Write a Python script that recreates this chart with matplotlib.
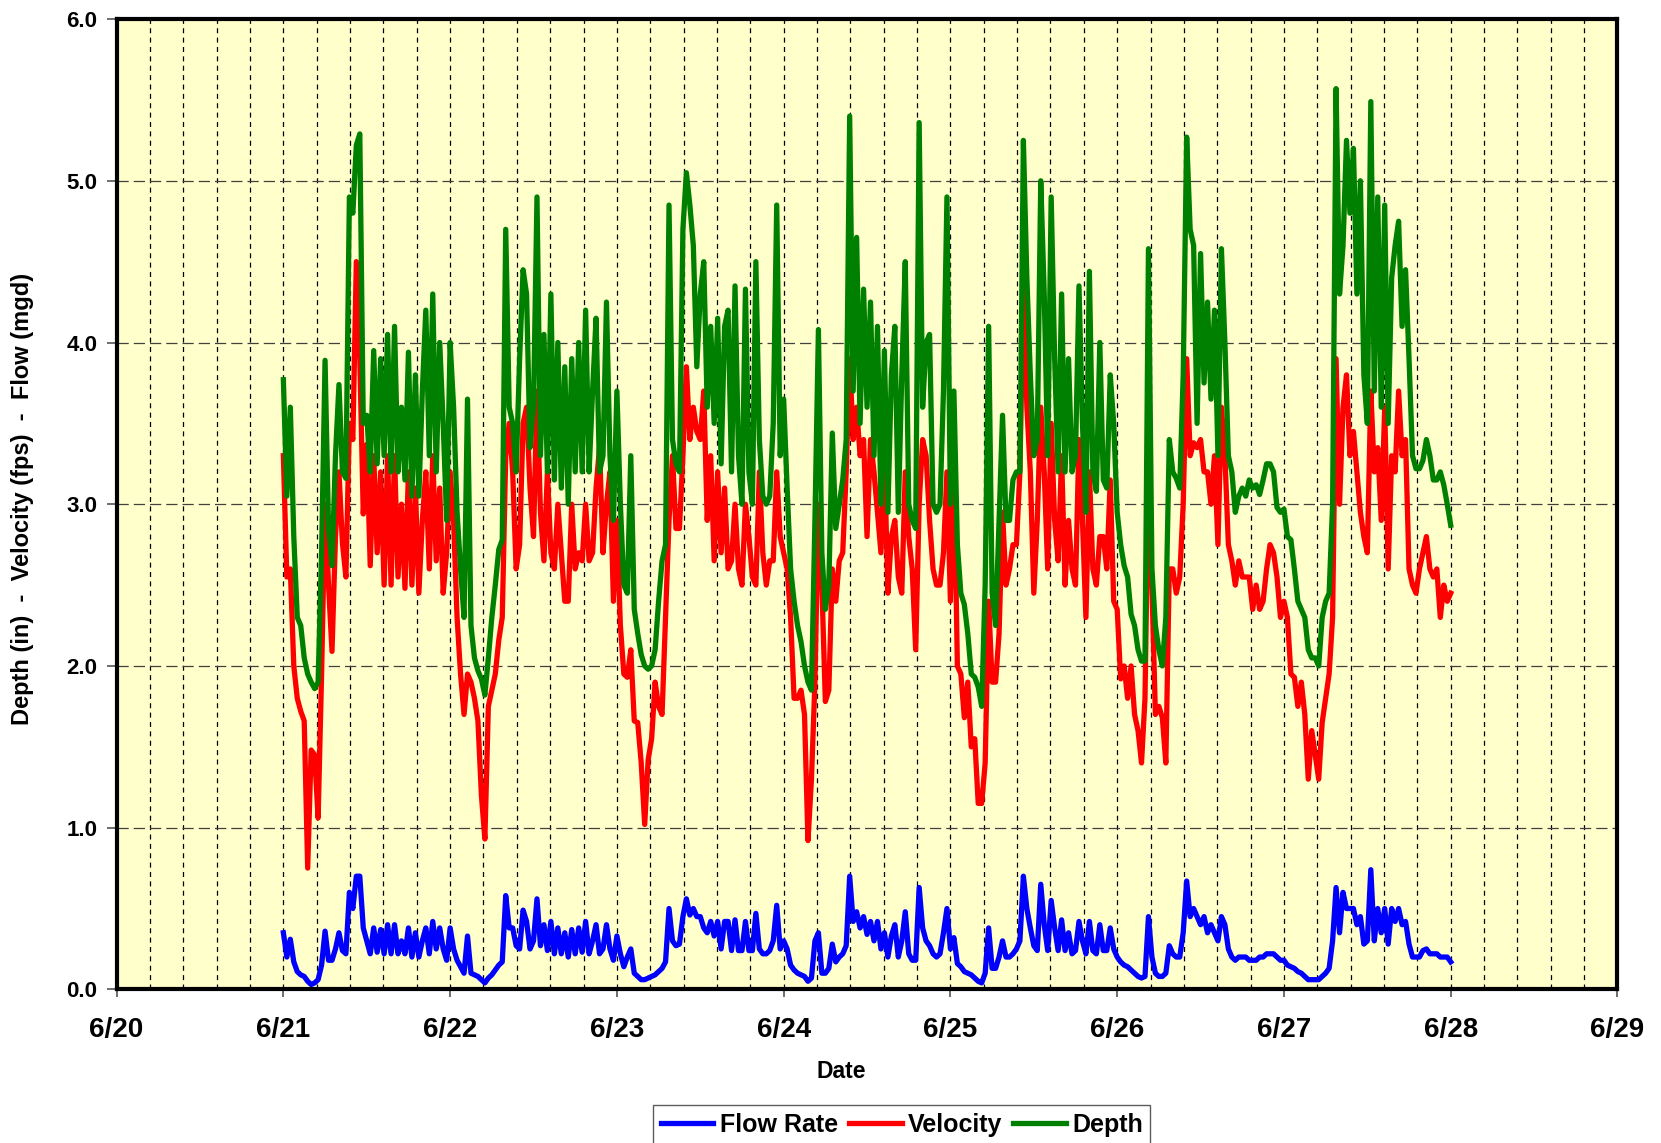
import matplotlib
matplotlib.use('Agg')
import matplotlib.pyplot as plt
import matplotlib.dates as mdates
from matplotlib.ticker import MultipleLocator, FuncFormatter
from datetime import datetime
import pandas as pd

plt.rcParams['font.family'] = ['Liberation Sans', 'DejaVu Sans']
plt.rcParams['font.weight'] = 'bold'

# half-hourly readings, 6/21 00:00 through 6/28 00:00
depth = [
    # 6/21
    3.77, 3.05, 3.6, 2.8, 2.3, 2.25, 2.05, 1.95, 1.9, 1.86, 1.9, 2.7,
    3.89, 2.85, 2.62, 3.3, 3.74, 3.2, 3.16, 4.9, 4.8, 5.22, 5.29, 3.5,
    3.55, 3.2, 3.95, 3.25, 3.9, 3.3, 4.05, 3.2, 4.1, 3.2, 3.6, 3.15,
    3.94, 3.05, 3.8, 3.05, 3.7, 4.2, 3.3, 4.3, 3.2, 4.0, 3.5, 2.9,
    # 6/22
    4.0, 3.6, 2.95, 2.6, 2.3, 3.65, 2.25, 2.05, 1.97, 1.92, 1.82, 2.05,
    2.3, 2.5, 2.72, 2.78, 4.7, 3.6, 3.5, 3.2, 3.9, 4.45, 4.3, 3.35,
    3.6, 4.9, 3.3, 4.05, 3.2, 4.3, 3.15, 4.0, 3.1, 3.85, 3.0, 3.9,
    3.2, 4.0, 3.2, 4.2, 3.2, 3.7, 4.15, 3.2, 3.3, 4.25, 3.3, 2.9,
    # 6/23
    3.7, 3.0, 2.5, 2.45, 3.3, 2.35, 2.2, 2.07, 2.0, 1.98, 2.0, 2.1,
    2.4, 2.65, 2.75, 4.85, 3.4, 3.25, 3.2, 4.7, 5.05, 4.85, 4.6, 3.85,
    4.3, 4.5, 3.6, 4.1, 3.5, 4.15, 3.25, 4.1, 4.2, 3.2, 4.35, 3.3,
    3.0, 4.33, 3.2, 3.0, 4.5, 3.4, 3.05, 3.0, 3.05, 3.5, 4.85, 3.3,
    # 6/24
    3.65, 3.1, 2.6, 2.4, 2.25, 2.15, 2.0, 1.9, 1.85, 2.9, 4.08, 2.7,
    2.35, 2.5, 3.44, 2.85, 3.0, 3.15, 3.4, 5.4, 3.7, 4.65, 3.5, 4.33,
    3.6, 4.25, 3.3, 4.1, 3.0, 3.95, 2.95, 3.8, 4.1, 2.95, 3.8, 4.5,
    3.0, 2.9, 2.85, 5.36, 3.6, 4.0, 4.05, 3.0, 2.95, 3.0, 3.7, 4.9,
    # 6/25
    3.0, 3.7, 2.75, 2.45, 2.38, 2.2, 1.95, 1.93, 1.87, 1.75, 2.5, 4.1,
    2.45, 2.25, 2.9, 3.55, 2.9, 2.9, 3.15, 3.2, 3.2, 5.25, 4.4, 3.8,
    3.3, 3.4, 5.0, 4.3, 3.3, 4.9, 3.9, 3.2, 4.3, 3.2, 3.9, 3.2,
    3.3, 4.35, 3.5, 2.95, 4.44, 3.2, 3.08, 4.0, 3.15, 3.1, 3.8, 3.5,
    # 6/26
    2.95, 2.75, 2.62, 2.55, 2.32, 2.25, 2.1, 2.03, 2.03, 4.58, 2.6, 2.25,
    2.1, 2.0, 2.3, 3.4, 3.2, 3.16, 3.1, 3.8, 5.27, 4.7, 4.6, 3.5,
    4.55, 3.75, 4.25, 3.65, 4.2, 3.3, 4.58, 4.0, 3.3, 3.2, 2.95, 3.05,
    3.1, 3.05, 3.15, 3.1, 3.12, 3.06, 3.15, 3.25, 3.25, 3.2, 2.98, 2.95,
    # 6/27
    2.97, 2.8, 2.78, 2.6, 2.4, 2.35, 2.3, 2.1, 2.05, 2.05, 2.0, 2.3,
    2.4, 2.45, 3.0, 5.57, 4.3, 4.6, 5.25, 4.8, 5.2, 4.3, 5.0, 3.8,
    3.5, 5.49, 3.7, 4.9, 3.6, 4.85, 3.5, 4.4, 4.6, 4.75, 4.1, 4.45,
    3.9, 3.3, 3.22, 3.22, 3.27, 3.4, 3.3, 3.15, 3.15, 3.2, 3.12, 3.0,
    # 6/28
    2.87,
]

velocity = [
    # 6/21
    3.3, 2.55, 2.6, 2.0, 1.8, 1.72, 1.66, 0.75, 1.48, 1.45, 1.06, 1.95,
    3.0, 2.5, 2.09, 2.8, 3.2, 2.76, 2.55, 3.5, 3.4, 4.5, 3.9, 2.94,
    3.37, 2.62, 3.3, 2.7, 3.2, 2.5, 3.3, 2.5, 3.3, 2.55, 3.0, 2.48,
    3.2, 2.5, 3.1, 2.45, 2.9, 3.2, 2.6, 3.3, 2.65, 3.1, 2.45, 2.7,
    # 6/22
    3.2, 2.9, 2.3, 1.95, 1.7, 1.95, 1.9, 1.8, 1.66, 1.2, 0.93, 1.75,
    1.85, 1.95, 2.16, 2.3, 3.3, 3.5, 3.2, 2.6, 2.75, 3.5, 3.6, 3.1,
    2.8, 3.7, 2.95, 2.65, 3.2, 2.7, 2.6, 3.0, 2.7, 2.4, 2.4, 3.0,
    2.6, 2.7, 2.65, 3.0, 2.65, 2.7, 3.1, 3.35, 2.7, 3.0, 3.2, 2.4,
    # 6/23
    2.9, 2.25, 1.95, 1.93, 2.1, 1.66, 1.65, 1.4, 1.02, 1.42, 1.55, 1.9,
    1.75, 1.7, 2.3, 2.9, 3.3, 2.85, 2.85, 3.3, 3.85, 3.4, 3.6, 3.45,
    3.4, 3.7, 2.9, 3.3, 2.65, 3.2, 2.7, 3.1, 2.6, 2.65, 3.0, 2.6,
    2.5, 3.0, 2.8, 2.55, 2.5, 3.2, 2.7, 2.5, 2.65, 2.65, 3.2, 2.8,
    # 6/24
    2.7, 2.6, 2.3, 1.8, 1.8, 1.85, 1.7, 0.92, 1.3, 1.9, 3.0, 2.5,
    1.78, 1.85, 2.6, 2.4, 2.65, 2.7, 3.2, 3.9, 3.4, 3.6, 3.3, 3.4,
    2.8, 3.4, 3.2, 2.95, 2.7, 3.3, 2.45, 2.8, 2.9, 2.55, 2.45, 3.2,
    2.8, 2.6, 2.1, 3.0, 3.4, 3.3, 2.9, 2.6, 2.5, 2.5, 2.7, 3.2,
    # 6/25
    2.4, 3.3, 2.0, 1.95, 1.68, 1.9, 1.5, 1.55, 1.15, 1.15, 1.4, 2.4,
    1.9, 1.9, 2.2, 2.95, 2.5, 2.6, 2.75, 2.75, 3.2, 4.4, 3.6, 3.2,
    2.45, 2.9, 3.6, 3.2, 2.6, 3.5, 2.9, 2.65, 3.3, 2.5, 2.9, 2.6,
    2.5, 3.4, 2.9, 2.3, 3.2, 2.6, 2.5, 2.8, 2.8, 2.6, 3.15, 2.4,
    # 6/26
    2.35, 1.92, 2.0, 1.8, 2.0, 1.7, 1.6, 1.4, 1.8, 3.2, 2.5, 1.7,
    1.75, 1.68, 1.4, 2.6, 2.6, 2.45, 2.55, 3.0, 3.9, 3.3, 3.38, 3.35,
    3.4, 3.2, 3.2, 3.0, 3.3, 2.75, 3.6, 3.3, 2.75, 2.65, 2.5, 2.65,
    2.55, 2.55, 2.55, 2.35, 2.5, 2.35, 2.4, 2.6, 2.75, 2.7, 2.55, 2.3,
    # 6/27
    2.4, 2.3, 1.95, 1.93, 1.75, 1.9, 1.7, 1.3, 1.6, 1.45, 1.3, 1.65,
    1.8, 1.95, 2.3, 3.9, 3.0, 3.6, 3.8, 3.3, 3.45, 3.2, 2.95, 2.8,
    2.7, 3.7, 3.2, 3.35, 2.9, 3.6, 2.6, 3.3, 3.2, 3.7, 3.3, 3.4,
    2.6, 2.5, 2.45, 2.6, 2.7, 2.8, 2.6, 2.55, 2.6, 2.3, 2.5, 2.4,
    # 6/28
    2.45,
]

flow = [
    # 6/21
    0.35, 0.2, 0.31, 0.17, 0.11, 0.09, 0.08, 0.05, 0.03, 0.04, 0.06, 0.15,
    0.36, 0.18, 0.18, 0.25, 0.35, 0.24, 0.22, 0.6, 0.5, 0.7, 0.7, 0.38,
    0.3, 0.22, 0.38, 0.23, 0.37, 0.22, 0.4, 0.22, 0.4, 0.22, 0.3, 0.22,
    0.38, 0.2, 0.35, 0.2, 0.3, 0.38, 0.22, 0.42, 0.25, 0.38, 0.25, 0.18,
    # 6/22
    0.38, 0.25, 0.18, 0.14, 0.1, 0.33, 0.1, 0.09, 0.08, 0.06, 0.04, 0.07,
    0.09, 0.12, 0.15, 0.17, 0.58, 0.38, 0.38, 0.27, 0.25, 0.49, 0.42, 0.25,
    0.3, 0.56, 0.27, 0.4, 0.24, 0.42, 0.22, 0.38, 0.22, 0.35, 0.2, 0.37,
    0.22, 0.38, 0.23, 0.42, 0.22, 0.3, 0.4, 0.22, 0.25, 0.4, 0.25, 0.18,
    # 6/23
    0.33, 0.22, 0.14, 0.2, 0.25, 0.1, 0.08, 0.06, 0.06, 0.07, 0.08, 0.09,
    0.11, 0.13, 0.17, 0.5, 0.3, 0.27, 0.28, 0.45, 0.56, 0.46, 0.5, 0.45,
    0.45, 0.38, 0.35, 0.42, 0.33, 0.42, 0.25, 0.42, 0.42, 0.24, 0.43, 0.24,
    0.24, 0.42, 0.24, 0.24, 0.47, 0.25, 0.22, 0.22, 0.24, 0.3, 0.52, 0.25,
    # 6/24
    0.3, 0.25, 0.15, 0.12, 0.1, 0.09, 0.08, 0.05, 0.07, 0.3, 0.35, 0.1,
    0.1, 0.13, 0.28, 0.17, 0.2, 0.22, 0.27, 0.7, 0.42, 0.48, 0.38, 0.45,
    0.34, 0.42, 0.3, 0.42, 0.25, 0.35, 0.2, 0.33, 0.4, 0.2, 0.3, 0.48,
    0.22, 0.18, 0.18, 0.63, 0.38, 0.3, 0.27, 0.22, 0.2, 0.22, 0.35, 0.5,
    # 6/25
    0.25, 0.32, 0.16, 0.14, 0.11, 0.1, 0.09, 0.07, 0.05, 0.04, 0.1, 0.38,
    0.13, 0.13, 0.2, 0.3, 0.2, 0.2, 0.22, 0.25, 0.3, 0.7, 0.5, 0.38,
    0.27, 0.24, 0.65, 0.4, 0.24, 0.55, 0.38, 0.24, 0.43, 0.24, 0.35, 0.22,
    0.24, 0.42, 0.3, 0.22, 0.42, 0.24, 0.22, 0.4, 0.24, 0.24, 0.38, 0.25,
    # 6/26
    0.2, 0.17, 0.15, 0.14, 0.12, 0.1, 0.08, 0.07, 0.08, 0.45, 0.2, 0.1,
    0.08, 0.08, 0.1, 0.27, 0.22, 0.2, 0.2, 0.35, 0.67, 0.45, 0.5, 0.45,
    0.4, 0.45, 0.35, 0.4, 0.35, 0.3, 0.45, 0.4, 0.25, 0.2, 0.18, 0.2,
    0.2, 0.2, 0.18, 0.18, 0.18, 0.2, 0.2, 0.22, 0.22, 0.22, 0.2, 0.18,
    # 6/27
    0.18, 0.15, 0.14, 0.13, 0.11, 0.1, 0.08, 0.06, 0.06, 0.06, 0.06, 0.08,
    0.1, 0.13, 0.3, 0.63, 0.35, 0.6, 0.5, 0.5, 0.5, 0.4, 0.45, 0.28,
    0.3, 0.74, 0.3, 0.5, 0.35, 0.5, 0.28, 0.5, 0.42, 0.5, 0.4, 0.42,
    0.28, 0.2, 0.2, 0.2, 0.24, 0.25, 0.22, 0.22, 0.22, 0.2, 0.2, 0.2,
    # 6/28
    0.17,
]

times = pd.date_range('2008-06-21 00:00', periods=len(depth), freq='30min')

fig = plt.figure(figsize=(16.61, 11.43), dpi=100)
ax = fig.add_axes([0.0702, 0.1344, 0.9036, 0.8489])
ax.set_facecolor('#FFFFCC')

l1, = ax.plot(times, flow, color='#0000FF', lw=3.8, label='Flow Rate', zorder=3)
l2, = ax.plot(times, velocity, color='#FF0000', lw=3.8, label='Velocity', zorder=4)
l3, = ax.plot(times, depth, color='#008000', lw=3.8, label='Depth', zorder=5)

ax.set_xlim(mdates.date2num(datetime(2008, 6, 20)), mdates.date2num(datetime(2008, 6, 29)))
ax.set_ylim(0, 6)

ax.xaxis.set_major_locator(MultipleLocator(1))
ax.xaxis.set_minor_locator(MultipleLocator(0.2))
ax.xaxis.set_major_formatter(FuncFormatter(
    lambda v, p: f"{mdates.num2date(v).month}/{mdates.num2date(v).day}"))
ax.yaxis.set_major_locator(MultipleLocator(1))
ax.yaxis.set_major_formatter(FuncFormatter(lambda v, p: f"{v:.1f}"))

ax.set_axisbelow(True)
ax.xaxis.grid(True, which='both', color='black', lw=0.9, linestyle=(0, (4, 3.5)))
ax.yaxis.grid(True, which='major', color='#404040', lw=0.9, linestyle=(0, (9, 4)))

for s in ax.spines.values():
    s.set_linewidth(3)
ax.tick_params(axis='x', which='major', direction='out', length=6, width=1.2,
               color='#555555', pad=14, labelsize=20)
ax.tick_params(axis='x', which='minor', length=0)
ax.tick_params(axis='y', direction='out', length=7, width=1.2, color='#555555',
               pad=7, labelsize=16)
for t in ax.get_xticklabels() + ax.get_yticklabels():
    t.set_fontweight('bold')

ax.set_xlabel('Date', fontsize=16.5, fontweight='bold')
ax.xaxis.set_label_coords(0.483, -0.073)
ax.set_ylabel('Depth (in)  -  Velocity (fps)  -  Flow (mgd)', fontsize=17, fontweight='bold')
ax.yaxis.set_label_coords(-0.055, 0.505)

leg = fig.legend(handles=[l1, l2, l3], loc='upper center', ncol=3,
                 bbox_to_anchor=(0.543, 0.033), bbox_transform=fig.transFigure,
                 prop={'weight': 'bold', 'size': 18}, frameon=True, fancybox=False,
                 handlelength=2.1, handletextpad=0.25, columnspacing=0.45,
                 borderpad=0.3, borderaxespad=0)
leg.get_frame().set_edgecolor('#333333')
leg.get_frame().set_linewidth(1.0)

fig.savefig('out.png', dpi=100)
